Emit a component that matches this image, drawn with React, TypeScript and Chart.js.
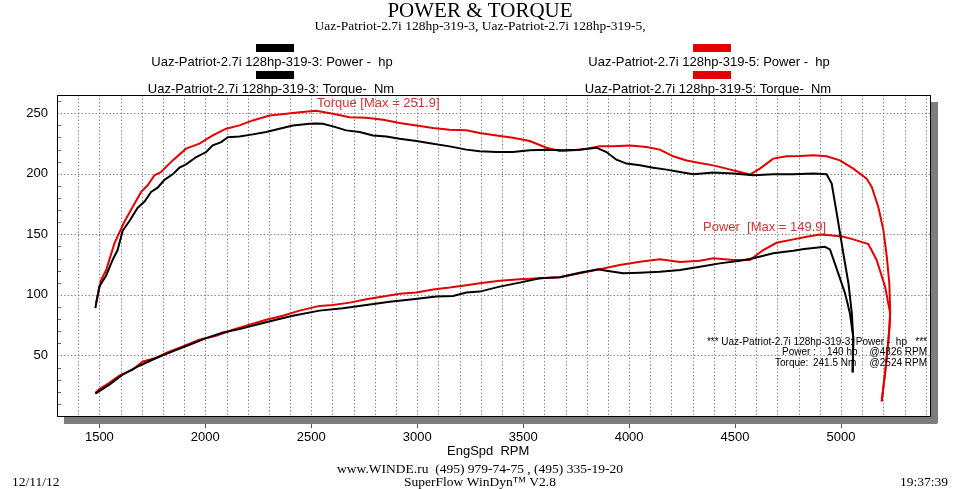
import React, { useEffect, useRef } from "react";
import { Chart, registerables } from "chart.js";

Chart.register(...registerables);

// ---- Data ----
const torque3Rpm = [1481, 1500, 1532, 1563, 1586, 1610, 1642, 1681, 1713, 1744, 1775, 1807, 1846, 1878, 1909, 1957, 2004, 2035, 2075, 2106, 2161, 2224, 2287, 2350, 2413, 2492, 2524, 2555, 2602, 2665, 2728, 2791, 2854, 2917, 2996, 3075, 3153, 3232, 3295, 3374, 3452, 3531, 3610, 3689, 3767, 3846, 3893, 3940, 3988, 4051, 4114, 4177, 4240, 4303, 4397, 4492, 4586, 4680, 4775, 4870, 4932, 4956, 4980, 5011, 5035, 5051, 5058, 5055];
const torque3Nm = [89, 107, 116, 129, 137, 153, 161, 172, 177, 185, 188.5, 195, 199.5, 205, 207.8, 213.8, 217.9, 223.4, 226.1, 230.2, 230.8, 232.5, 234.4, 237.2, 239.9, 241.2, 241.5, 241.3, 239.1, 235.8, 234.4, 231.6, 230.8, 228.9, 227, 224.8, 222.6, 219.9, 218.5, 217.9, 217.9, 219.3, 219.9, 219.3, 219.9, 221.5, 217.9, 211.6, 208.4, 207, 205, 203.4, 201.4, 199.5, 201, 200.1, 198.7, 199.5, 199.5, 200.1, 199.5, 191.9, 167.2, 134.3, 109.6, 84.9, 63, 36];

const power3Rpm = [1481, 1547, 1610, 1689, 1768, 1846, 1925, 2004, 2083, 2161, 2240, 2334, 2413, 2539, 2649, 2760, 2870, 2980, 3090, 3169, 3232, 3295, 3389, 3484, 3578, 3673, 3767, 3854, 3893, 3972, 4051, 4145, 4240, 4334, 4428, 4523, 4586, 4680, 4775, 4826, 4870, 4924, 4948, 4987, 5019, 5042, 5058, 5055];
const power3Hp = [18.5, 25.9, 34.1, 41.5, 47.9, 53.3, 58.8, 64.3, 68.9, 71.7, 75.3, 79.4, 82.7, 87, 89, 91.7, 94.4, 96.4, 98.6, 99.1, 101.9, 102.7, 106.8, 110.1, 113.7, 114.5, 118.3, 121.1, 120, 117.8, 118.3, 119.1, 120.5, 123.3, 126, 128.2, 130.2, 134.3, 136.4, 137.8, 138.6, 139.7, 137.5, 117.8, 101.4, 84.9, 65, 36];

const torque5Rpm = [1484, 1508, 1532, 1571, 1618, 1657, 1697, 1728, 1760, 1791, 1846, 1909, 1972, 2035, 2098, 2161, 2224, 2303, 2382, 2445, 2523, 2602, 2681, 2760, 2839, 2917, 2996, 3075, 3153, 3232, 3295, 3374, 3452, 3531, 3610, 3673, 3736, 3799, 3862, 3925, 4004, 4083, 4145, 4208, 4271, 4334, 4397, 4460, 4523, 4570, 4617, 4680, 4743, 4807, 4870, 4932, 4995, 5058, 5121, 5145, 5176, 5200, 5216, 5228, 5232, 5230, 5224, 5208, 5192];
const torque5Nm = [93.1, 112.3, 120.5, 142.5, 160.3, 172.6, 185, 190.5, 198.7, 201.4, 211, 220.7, 224.8, 231.6, 237.2, 239.9, 244, 248.1, 249.5, 250.8, 251.9, 249.5, 246.7, 246.2, 244.5, 241.8, 239.9, 237.7, 236.3, 235.8, 233.6, 231.6, 229.7, 227, 221.5, 218.7, 219.3, 220.7, 222.6, 222.6, 223.4, 222, 219.9, 214.4, 211, 208.8, 206.9, 204.2, 201.4, 199.3, 204.2, 212.5, 214.4, 214.6, 215.2, 214.4, 211, 204.2, 196, 189.1, 172.6, 153.5, 131.5, 109.6, 87.6, 75, 63, 35.5, 12.1];

const power5Rpm = [1481, 1500, 1547, 1594, 1657, 1705, 1768, 1815, 1894, 1972, 2051, 2130, 2209, 2287, 2366, 2445, 2539, 2602, 2681, 2760, 2839, 2917, 2996, 3075, 3153, 3232, 3295, 3389, 3484, 3578, 3673, 3767, 3862, 3956, 4051, 4145, 4240, 4334, 4397, 4492, 4570, 4633, 4696, 4775, 4838, 4900, 4948, 5011, 5058, 5129, 5168, 5208, 5232, 5224, 5208, 5192];
const power5Hp = [19.1, 22.3, 27.3, 33.3, 38.2, 45, 47.9, 52, 57.4, 62.9, 66.2, 71.2, 75.3, 79.4, 82.7, 87, 90.9, 91.7, 93.6, 96.4, 98.6, 101, 102, 104.5, 106, 108, 109.6, 111.7, 112.9, 113.7, 114.5, 117.8, 121.1, 124.6, 127.4, 129.3, 127.1, 128.2, 130.2, 128.8, 128.8, 137, 143, 145.8, 147.9, 149.9, 149.3, 147.9, 145.8, 142, 128.8, 106.8, 84.8, 63, 35.5, 12.1];

const xTickLabels = [1500, 2000, 2500, 3000, 3500, 4000, 4500, 5000];
const yTickLabels = [50, 100, 150, 200, 250];

const legendItems = [
  "Uaz-Patriot-2.7i 128hp-319-3: Power -  hp",
  "Uaz-Patriot-2.7i 128hp-319-3: Torque-  Nm",
  "Uaz-Patriot-2.7i 128hp-319-5: Power -  hp",
  "Uaz-Patriot-2.7i 128hp-319-5: Torque-  Nm",
];

const BLACK = "#000000";
const RED = "#e30000";
const NOTE_RED = "#cc3535";
const SANS = '"Liberation Sans", Arial, sans-serif';
const SERIF = '"Liberation Serif", "Times New Roman", serif';

const pts = (xs: number[], ys: number[]) => xs.map((x, i) => ({ x, y: ys[i] }));

const chartPlugin = {
  id: "dynoDecor",
  beforeDraw(chart: any) {
    const ctx = chart.ctx;
    ctx.save();
    ctx.fillStyle = "#ffffff";
    ctx.fillRect(0, 0, chart.width, chart.height);
    ctx.restore();
  },
  beforeDatasetsDraw(chart: any) {
    const { ctx, chartArea: a, scales } = chart;
    const xs = scales.x;
    const ys = scales.y;
    ctx.save();
    ctx.lineWidth = 1;
    ctx.strokeStyle = "#8a8a8a";
    ctx.setLineDash([1.5, 2]);
    xs.ticks.forEach((t: any) => {
      const px = Math.round(xs.getPixelForValue(t.value)) + 0.5;
      if (px <= a.left + 1 || px >= a.right - 1) return;
      ctx.beginPath();
      ctx.moveTo(px, a.top);
      ctx.lineTo(px, a.bottom);
      ctx.stroke();
    });
    ys.ticks.forEach((t: any) => {
      if (!yTickLabels.includes(t.value)) return;
      const py = Math.round(ys.getPixelForValue(t.value)) + 0.5;
      ctx.beginPath();
      ctx.moveTo(a.left, py);
      ctx.lineTo(a.right, py);
      ctx.stroke();
    });
    ctx.setLineDash([]);
    ctx.strokeStyle = "#666666";
    ys.ticks.forEach((t: any) => {
      if (t.value <= 0 || yTickLabels.includes(t.value)) return;
      const py = Math.round(ys.getPixelForValue(t.value)) + 0.5;
      ctx.beginPath();
      ctx.moveTo(a.left, py);
      ctx.lineTo(a.left + 4, py);
      ctx.stroke();
    });
    ctx.restore();
  },
  afterDatasetsDraw(chart: any) {
    const { ctx, chartArea: a, scales } = chart;
    const xs = scales.x;
    ctx.save();
    // shadow
    ctx.fillStyle = "#7d7d7d";
    ctx.fillRect(a.left + 7, a.bottom + 1, a.right - a.left, 7);
    ctx.fillRect(a.right + 1, a.top + 7, 7, a.bottom - a.top);
    // frame
    ctx.strokeStyle = "#000000";
    ctx.lineWidth = 1;
    ctx.strokeRect(Math.round(a.left) + 0.5, Math.round(a.top) + 0.5, Math.round(a.right - a.left), Math.round(a.bottom - a.top));
    // small major ticks below the shadow
    ctx.strokeStyle = "#555555";
    xTickLabels.forEach((v) => {
      const px = Math.round(xs.getPixelForValue(v)) + 0.5;
      ctx.beginPath();
      ctx.moveTo(px, a.bottom + 8);
      ctx.lineTo(px, a.bottom + 12);
      ctx.stroke();
    });
    ctx.restore();
  },
  afterDraw(chart: any) {
    const ctx = chart.ctx;
    ctx.save();
    ctx.fillStyle = "#000000";
    ctx.textAlign = "center";
    ctx.textBaseline = "alphabetic";
    ctx.font = `21px ${SERIF}`;
    ctx.fillText("POWER & TORQUE", 480, 17);
    ctx.font = `13.5px ${SERIF}`;
    ctx.fillText("Uaz-Patriot-2.7i 128hp-319-3, Uaz-Patriot-2.7i 128hp-319-5,", 480, 29.5);

    // legend
    ctx.fillStyle = BLACK;
    ctx.fillRect(256, 44, 38, 8);
    ctx.fillRect(256, 71, 38, 8);
    ctx.fillStyle = RED;
    ctx.fillRect(693, 44, 38, 8);
    ctx.fillRect(693, 71, 38, 8);
    ctx.fillStyle = "#000000";
    ctx.font = `13px ${SANS}`;
    ctx.textBaseline = "middle";
    ctx.fillText(legendItems[0], 272, 62);
    ctx.fillText(legendItems[1], 271, 89);
    ctx.fillText(legendItems[2], 709, 62);
    ctx.fillText(legendItems[3], 708, 89);

    // max notes
    ctx.fillStyle = NOTE_RED;
    ctx.textAlign = "left";
    ctx.fillText(`Torque [Max = ${Math.max(...torque5Nm).toFixed(1)}]`, 317, 103);
    ctx.fillText(`Power  [Max = ${Math.max(...power5Hp).toFixed(1)}]`, 703, 227);

    // info box
    ctx.fillStyle = "#000000";
    ctx.font = `10px ${SANS}`;
    ctx.textAlign = "right";
    ctx.fillText("*** Uaz-Patriot-2.7i 128hp-319-3: Power -  hp   ***", 927, 342);
    ctx.fillText("@4826 RPM", 927, 352.5);
    ctx.fillText("@2524 RPM", 927, 363);
    ctx.textAlign = "left";
    ctx.fillText("Power :", 782, 352.5);
    ctx.fillText("140 hp", 827, 352.5);
    ctx.fillText("Torque:", 775, 363);
    ctx.fillText("241.5 Nm", 813, 363);

    // axis title
    ctx.font = `13px ${SANS}`;
    ctx.fillText("EngSpd  RPM", 447, 451);

    // footer
    ctx.font = `13.5px ${SERIF}`;
    ctx.textAlign = "center";
    ctx.fillText("www.WINDE.ru  (495) 979-74-75 , (495) 335-19-20", 480, 469);
    ctx.fillText("SuperFlow WinDyn\u2122 V2.8", 480, 482);
    ctx.textAlign = "left";
    ctx.fillText("12/11/12", 12, 482);
    ctx.textAlign = "right";
    ctx.fillText("19:37:39", 948, 482);
    ctx.restore();
  },
};

export default function App() {
  const canvasRef = useRef<HTMLCanvasElement | null>(null);

  useEffect(() => {
    if (!canvasRef.current) return;
    const lineDs = (label: string, data: any[], color: string) => ({
      label,
      data,
      showLine: true,
      borderColor: color,
      backgroundColor: color,
      borderWidth: 2,
      pointRadius: 0,
      pointHoverRadius: 0,
      tension: 0,
      fill: false,
    });
    const chart = new Chart(canvasRef.current, {
      type: "scatter",
      data: {
        datasets: [
          lineDs(legendItems[0], pts(power3Rpm, power3Hp), BLACK),
          lineDs(legendItems[1], pts(torque3Rpm, torque3Nm), BLACK),
          lineDs(legendItems[2], pts(power5Rpm, power5Hp), RED),
          lineDs(legendItems[3], pts(torque5Rpm, torque5Nm), RED),
        ],
      },
      options: {
        animation: false,
        responsive: false,
        maintainAspectRatio: false,
        events: [],
        layout: { padding: { top: 95, right: 30, left: 0, bottom: 0 } },
        plugins: {
          legend: { display: false },
          title: { display: false },
          tooltip: { enabled: false },
        },
        scales: {
          x: {
            type: "linear",
            min: 1300,
            max: 5420,
            afterFit: (s: any) => {
              s.height = 73;
            },
            grid: { display: false, drawTicks: false },
            border: { display: false },
            ticks: {
              stepSize: 100,
              includeBounds: false,
              autoSkip: false,
              maxRotation: 0,
              padding: 14,
              color: "#000000",
              font: { family: SANS, size: 13 },
              callback: (v: any) => (xTickLabels.includes(Number(v)) ? String(v) : ""),
            },
          },
          y: {
            type: "linear",
            min: 0,
            max: 265,
            afterFit: (s: any) => {
              s.width = 57;
            },
            grid: { display: false, drawTicks: false },
            border: { display: false },
            ticks: {
              stepSize: 10,
              includeBounds: false,
              autoSkip: false,
              padding: 9,
              color: "#000000",
              font: { family: SANS, size: 13 },
              callback: (v: any) => (yTickLabels.includes(Number(v)) ? String(v) : ""),
            },
          },
        },
      },
      plugins: [chartPlugin],
    } as any);
    return () => chart.destroy();
  }, []);

  return (
    <div style={{ position: "absolute", left: 0, top: 0, width: 960, height: 489, background: "#fff" }}>
      <canvas ref={canvasRef} width={960} height={489} style={{ width: 960, height: 489, display: "block" }} />
    </div>
  );
}
